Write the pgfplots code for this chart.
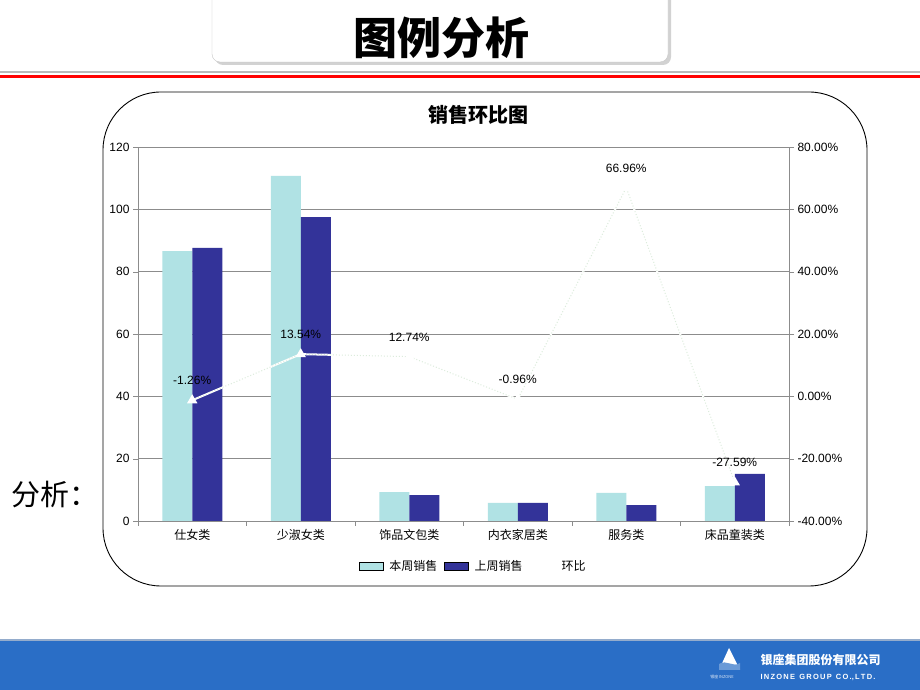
\documentclass[border=0pt]{standalone}
\usepackage{pgfplots}
\pgfplotsset{compat=1.18}
\usepackage{pgfplotstable}
\usepackage{fontspec}
\setmainfont{Liberation Sans}
\newfontfamily\cjk{Noto Sans CJK SC}
\definecolor{lightc}{RGB}{176,226,228}
\definecolor{darkc}{RGB}{51,51,153}
\definecolor{band}{RGB}{42,110,198}
\definecolor{gridc}{RGB}{140,140,140}
\definecolor{dotc}{RGB}{220,236,220}
\pgfplotsset{
  boxlegend/.style={legend image code/.code={\fill[##1] (0pt,-4pt) rectangle (24pt,4pt);}},
  linelegend/.style={legend image code/.code={\draw[##1] (0pt,0pt) -- (24pt,0pt);}},
}
\pgfplotstableread{
x this last
0 86.6 87.6
1 110.7 97.5
2 9.3 8.3
3 5.8 5.8
4 9.0 5.1
5 11.2 15.1
}\salesdata
\pgfplotstableread{
x r
0 -1.26
1 13.54
2 12.74
3 -0.96
4 66.96
5 -27.59
}\ratiodata
\begin{document}
\begin{tikzpicture}[x=1pt,y=1pt]
\path[use as bounding box] (0,0) rectangle (920,690);
\fill[white] (0,0) rectangle (920,690);
% title box
\fill[gray!35,rounded corners=8pt] (215,700) -- (215,625) -- (671,625) -- (671,700) -- cycle;
\draw[gray!45,fill=white,rounded corners=8pt] (212,700) -- (212,628) -- (668,628) -- (668,700);
\node[font=\cjk\bfseries\fontsize{44}{46}\selectfont] at (441,652) {图例分析};
% header lines
\fill[gray!55] (0,616.5) rectangle (920,619);
\fill[red] (0,612) rectangle (920,615);
% chart frame
\draw[black,line width=0.9pt,fill=white,rounded corners=58pt] (103,104) rectangle (867,598);
\node[font=\cjk\bfseries\fontsize{20}{22}\selectfont] at (478,575) {销售环比图};
% analysis label
\node[font=\cjk\fontsize{29}{31}\selectfont,anchor=west] at (8,195) {分析：};
% bottom band
\fill[band] (0,0) rectangle (920,50);
\fill[gray!40!band!60!white] (0,49) rectangle (920,51);
\fill[white] (729,42) -- (719,20) -- (740,20) -- cycle;
\fill[band!70!white] (719,26) .. controls (727,31) and (733,22) .. (740,27) -- (740,20) -- (719,20) -- cycle;
\node[font=\cjk\bfseries\fontsize{12}{13}\selectfont,text=white,anchor=west] at (757,30) {银座集团股份有限公司};
\node[font=\bfseries\fontsize{7.5}{8}\selectfont,text=white,anchor=west] at (757,13) {I\,N\,Z\,O\,N\,E\ \ G\,R\,O\,U\,P\ \ C\,O\,.,\,L\,T\,D\,.};
\node[font=\fontsize{4}{5}\selectfont,text=white!85!band] at (722,13) {\cjk 银座\,INZONE};

\begin{axis}[
  at={(138pt,169pt)}, anchor=south west,
  scale only axis, width=651pt, height=374pt,
  ybar=0pt, bar width=30pt,
  xmin=-0.5, xmax=5.5, ymin=0, ymax=120,
  xtick={0,...,5},
  xticklabels={仕女类,少淑女类,饰品文包类,内衣家居类,服务类,床品童装类},
  major x tick style={draw=none},
  minor xtick={-0.5,0.5,1.5,2.5,3.5,4.5,5.5},
  minor tick length=5pt,
  ytick={0,20,...,120},
  major tick length=5pt,
  tick align=outside,
  axis x line*=bottom, axis y line*=left,
  axis line style={gridc,-},
  tick style={gridc},
  ymajorgrids, grid style={gridc,line width=0.6pt},
  tick label style={font=\fontsize{12}{14}\selectfont},
  xticklabel style={font=\cjk\fontsize{12}{14}\selectfont},
  /pgf/number format/assume math mode=true,
]
\addplot[fill=lightc,draw=none] table[x=x,y=this] {\salesdata};
\addplot[fill=darkc,draw=none] table[x=x,y=last] {\salesdata};
\end{axis}

\begin{axis}[
  at={(138pt,169pt)}, anchor=south west,
  scale only axis, width=651pt, height=374pt,
  xmin=-0.5, xmax=5.5, ymin=-40, ymax=80,
  axis x line=none, axis y line*=right,
  axis line style={gridc,-},
  tick style={gridc},
  ytick={-40,-20,0,20,40,60,80},
  yticklabels={-40.00\%,-20.00\%,0.00\%,20.00\%,40.00\%,60.00\%,80.00\%},
  major tick length=5pt, tick align=outside,
  tick label style={font=\fontsize{12}{14}\selectfont},
  legend style={at={(0.515,-0.12)},anchor=center,draw=none,fill=none,
    legend columns=3,font=\cjk\fontsize{12}{14}\selectfont,
    /tikz/every odd column/.append style={column sep=4pt},
    /tikz/every even column/.append style={column sep=5pt}},
]
\addlegendimage{boxlegend,fill=lightc}
\addlegendentry{本周销售}
\addlegendimage{boxlegend,fill=darkc}
\addlegendentry{上周销售}
\addplot[white,line width=2pt,mark=triangle*,mark size=4pt,mark options={white},linelegend,
  point meta=explicit,
  nodes near coords={\pgfmathprintnumber[fixed,fixed zerofill,precision=2]{\pgfplotspointmeta}\%},
  nodes near coords align={anchor=south},
  every node near coord/.append style={black,font=\fontsize{12}{14}\selectfont,yshift=11pt,/pgf/number format/assume math mode=true}]
  table[x=x,y=r,meta=r] {\ratiodata};
\addlegendentry{环比}
\addplot[dotc,dotted,line width=1pt,forget plot] table[x=x,y=r] {\ratiodata};
\end{axis}
\end{tikzpicture}
\end{document}
